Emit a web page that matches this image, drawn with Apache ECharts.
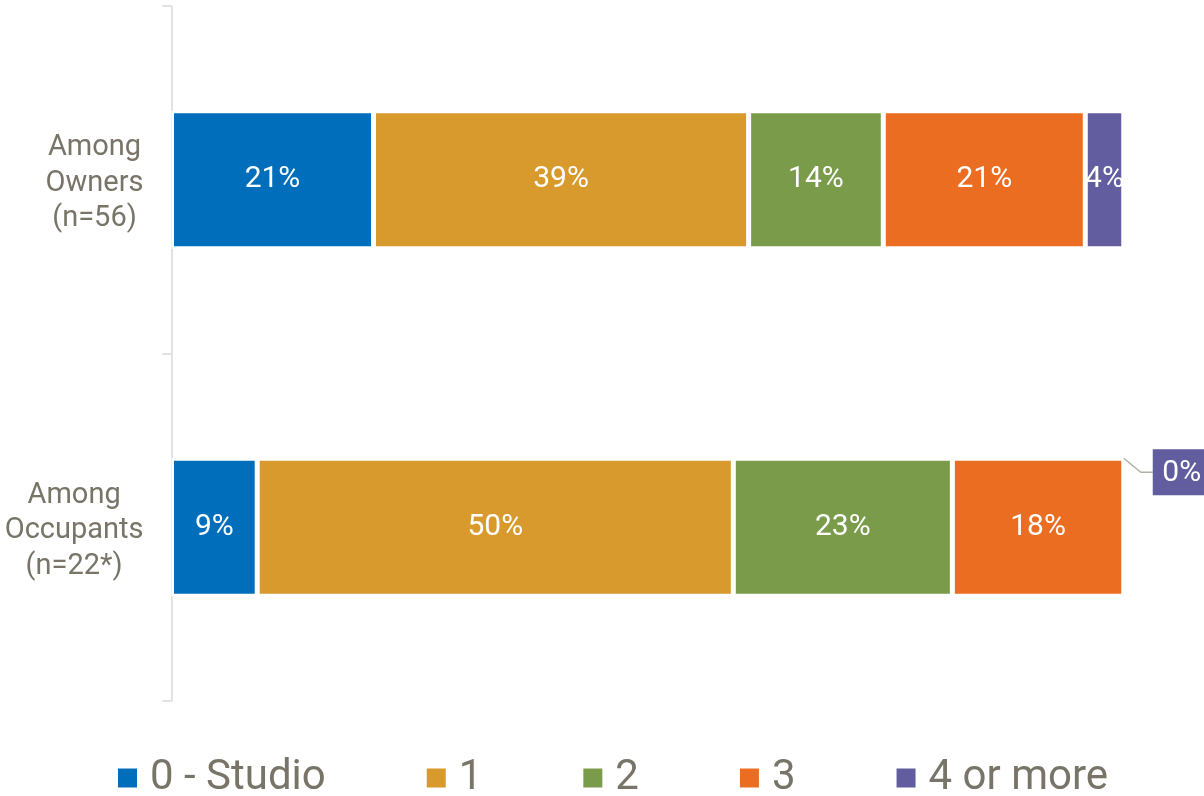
<!DOCTYPE html>
<html>
<head>
<meta charset="utf-8">
<title>Number of bedrooms</title>
<script src="https://cdn.jsdelivr.net/npm/echarts@6/dist/echarts.min.js"></script>
<style>
  html, body { margin: 0; padding: 0; background: #ffffff; }
  #chart { width: 1204px; height: 796px; }
</style>
</head>
<body>
<div id="chart"></div>
<script>
// Row labels (top to bottom)
const categories = ['Among\nOwners\n(n=56)', 'Among\nOccupants\n(n=22*)'];
// Segment names in stacking order
const seriesNames = ['0 - Studio', '1', '2', '3', '4 or more'];
// Percent of respondents per row
const studio = [21, 9];
const one = [39, 50];
const two = [14, 23];
const three = [21, 18];
const fourPlus = [4, 0];

const colors = ['#006EBA', '#D99A2D', '#7A9C4A', '#EA6D21', '#615D9E'];
const textGrey = '#787468';
const font = 'Roboto, "Noto Sans", sans-serif';
const barHeight = 138;

const rows = [studio, one, two, three, fourPlus];
// Each bar spans the whole width: segments are shares of the row total
const totals = categories.map((_, i) => rows.reduce((s, r) => s + r[i], 0));

const barSeries = rows.map((vals, k) => ({
  name: seriesNames[k],
  type: 'bar',
  stack: 'total',
  barWidth: barHeight,
  itemStyle: { color: colors[k], borderColor: '#ffffff', borderWidth: 2.5 },
  label: {
    show: true,
    position: 'inside',
    color: '#ffffff',
    fontFamily: font,
    fontSize: 30,
    formatter: p => p.data.raw + '%'
  },
  data: vals.map((v, i) => ({
    value: v / totals[i] * 100,
    raw: v,
    label: { show: v > 0 }
  }))
}));

// Callouts for segments too thin to hold their own label (value 0)
const last = rows.length - 1;
const calloutData = [];
categories.forEach((c, i) => {
  if (rows[last][i] === 0) {
    const end = rows.reduce((s, r) => s + r[i], 0) / totals[i] * 100;
    calloutData.push([end, i, rows[last][i]]);
  }
});

const calloutSeries = {
  type: 'custom',
  name: 'callout',
  silent: true,
  z: 5,
  encode: { x: 0, y: 1 },
  data: calloutData,
  renderItem: (params, api) => {
    const pt = api.coord([api.value(0), api.value(1)]);
    const top = pt[1] - barHeight / 2;
    const x = pt[0];
    const midY = top + 14;
    return {
      type: 'group',
      children: [
        {
          type: 'polyline',
          shape: { points: [[x, top], [x + 17, midY], [x + 29, midY]] },
          style: { stroke: '#b5b0a6', lineWidth: 1.5, fill: null }
        },
        {
          type: 'rect',
          shape: { x: x + 29, y: top - 9, width: 60, height: 46 },
          style: { fill: colors[last] }
        },
        {
          type: 'text',
          x: x + 58,
          y: midY + 1,
          style: {
            text: api.value(2) + '%',
            fill: '#ffffff',
            font: '30px ' + font,
            align: 'center',
            verticalAlign: 'middle'
          }
        }
      ]
    };
  }
};

const chart = echarts.init(document.getElementById('chart'), null, { renderer: 'canvas' });
chart.setOption({
  animation: false,
  color: colors,
  grid: { left: 171.5, right: 80.25, top: 6, bottom: 95, containLabel: false },
  xAxis: {
    type: 'value',
    min: 0,
    max: 100,
    show: false
  },
  yAxis: {
    type: 'category',
    inverse: true,
    data: categories,
    axisLine: { show: true, lineStyle: { color: '#d9d9d9', width: 1.5 } },
    axisTick: { show: true, length: 9, lineStyle: { color: '#d9d9d9', width: 1.5 } },
    axisLabel: {
      margin: 28,
      padding: [7, 0, 0, 0],
      formatter: v => v.split('\n').map(s => '{c|' + s + '}').join('\n'),
      rich: {
        c: {
          align: 'center',
          color: textGrey,
          fontFamily: font,
          fontSize: 29,
          lineHeight: 35.5
        }
      }
    }
  },
  legend: {
    data: seriesNames,
    left: 113,
    top: 751,
    icon: 'rect',
    itemWidth: 19,
    itemHeight: 19,
    itemGap: 101,
    itemStyle: { borderWidth: 0 },
    textStyle: {
      color: textGrey,
      fontFamily: font,
      fontSize: 42,
      lineHeight: 44,
      padding: [0, 0, 0, 8]
    }
  },
  series: [...barSeries, calloutSeries]
});
</script>
</body>
</html>
